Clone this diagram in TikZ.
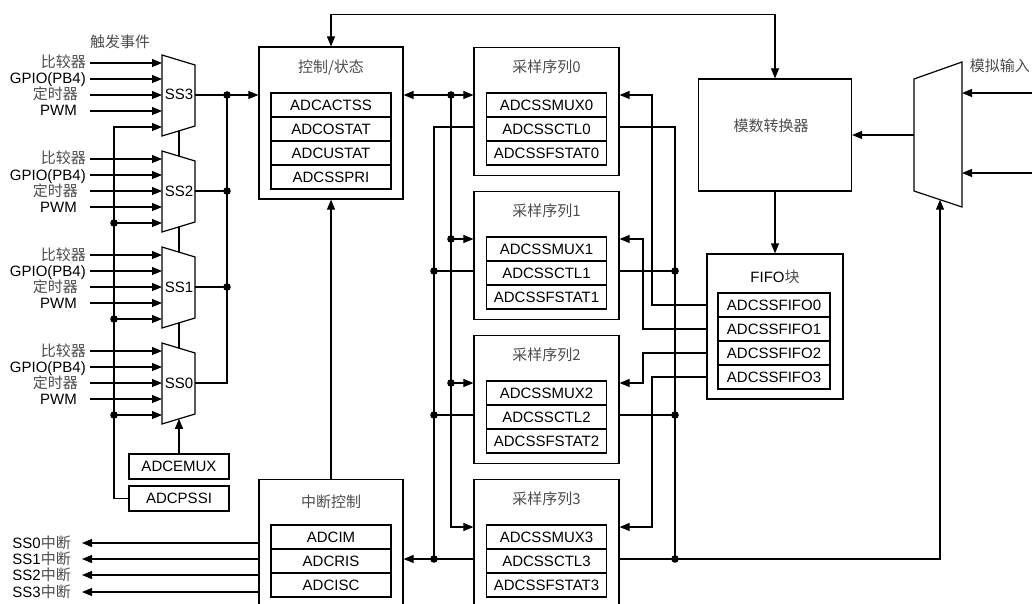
\documentclass[tikz,border=0pt]{standalone}
\usepackage{fontspec}
\setmainfont{Liberation Sans}
\newfontfamily\cjk{Noto Sans CJK SC}
\usetikzlibrary{arrows.meta, positioning, calc}
\newcommand\zh{\cjk\color{black!70}}
\newcommand\adcfont{\fontsize{15pt}{17pt}\selectfont}
\tikzset{
  wire/.style={line width=1.1pt},
  arr/.style={wire, -{Triangle[length=10pt,width=8pt]}},
  darr/.style={wire, {Triangle[length=10pt,width=8pt]}-{Triangle[length=10pt,width=8pt]}},
  blk/.style={draw, line width=1.2pt, inner sep=0pt},
  reg/.style={draw, line width=1.2pt, inner sep=0pt, minimum width=120pt, minimum height=24pt, font=\adcfont},
  ttl/.style={inner sep=0pt, font=\adcfont\cjk, text=black!70},
  lbl/.style={inner sep=0pt, font=\adcfont, text height=11pt, text depth=1pt},
}

\begin{document}
\begin{tikzpicture}[x=1pt,y=-1pt]
  \useasboundingbox (0,0) rectangle (1032,604);
  \clip (0,0) rectangle (1032,604);
  % control / status
  \node[blk, minimum width=144pt, minimum height=152pt] (ctrl) at (331,123) {};
  \node[ttl] (ctrlT) at (331,68) {控制/状态};
  \foreach \r [count=\i] in {ACTSS,OSTAT,USTAT,SSPRI}
    \node[reg] (cr\i) at (331,{81+24*\i}) {ADC\r};
  % interrupt control
  \node[blk, minimum width=144pt, minimum height=130pt, anchor=north] (intr) at (331,479) {};
  \node[ttl] (intrT) at (331,502) {中断控制};
  \foreach \r [count=\i] in {IM,RIS,ISC}
    \node[reg] (ir\i) at (331,{513+24*\i}) {ADC\r};
  % sample sequencers
  \foreach \n in {0,...,3} {
    \pgfmathsetmacro\T{47+144*\n}
    \node[blk, minimum width=145pt, minimum height=128pt, anchor=north] (seq\n) at (546.5,\T) {};
    \node[ttl] (seqT\n) at (546.5,\T+20) {采样序列\n};
    \node[reg] (mux\n) at (546.5,\T+58) {ADCSSMUX\n};
    \node[reg] (ctl\n) at (546.5,\T+82) {ADCSSCTL\n};
    \node[reg] (fst\n) at (546.5,\T+106) {ADCSSFSTAT\n};
    \coordinate (inA\n) at (451,\T+48);
    \coordinate (ctlL\n) at (434,\T+80);
    \coordinate (ctlR\n) at (675,\T+80);
  }
  % converter and FIFO
  \node[blk, minimum width=153pt, minimum height=112pt] (adc) at (775,135) {};
  \node[ttl] (adcT) at (771,126) {模数转换器};
  \node[blk, minimum width=136pt, minimum height=145pt] (fifo) at (775,326.5) {};
  \node[inner sep=0pt, font=\adcfont] (fifoT) at (775,277) {FIFO{\zh 块}};
  \foreach \n in {0,...,3}
    \node[reg, minimum width=112pt] (ff\n) at (774,{305+24*\n}) {ADCSSFIFO\n};
  % analog input mux
  \coordinate (amA) at (914,79);
  \coordinate (amB) at (962,62);
  \coordinate (amC) at (962,207);
  \coordinate (amD) at (914,191);
  \coordinate (amO) at (914,135);
  \coordinate (amS) at (940,199.7);
  \draw[line width=1.2pt] (amA) -- (amB) -- (amC) -- (amD) -- cycle;
  \node[ttl, anchor=east] (ainT) at (1030,66) {模拟输入};
  \foreach \yy [count=\i] in {93,173} {
    \coordinate (ain\i) at (1032,\yy);
    \draw[arr] (ain\i) -- (ain\i -| amB);
  }
  \draw[arr] (amO) -- (adc.east |- amO);
  % trigger muxes
  \node[ttl] (trigT) at (120,42) {触发事件};
  \foreach \s [count=\k from 0] in {3,2,1,0} {
    \pgfmathsetmacro\Y{55+96*\k}
    \draw[line width=1.2pt] (162,\Y) -- (195,\Y+10) -- (195,\Y+71) -- (162,\Y+81) -- cycle;
    \node[lbl] (ss\s) at (179,\Y+40) {SS\s};
    \foreach \t/\rx [count=\j from 0] in {{\zh 比较器}/86,GPIO(PB4)/86,{\zh 定时器}/78,PWM/77} {
      \node[lbl, anchor=east] (tr\s\j) at (\rx,\Y+8+16*\j) {\t};
      \draw[arr] (90,\Y+8+16*\j) -- (162,\Y+8+16*\j);
    }
    \coordinate (o\s) at (195,\Y+40);
    \coordinate (q\s) at (227,\Y+40);
    \coordinate (e\s) at (162,\Y+72);
    \coordinate (b\s) at (114,\Y+72);
    \coordinate (mt\s) at (179,\Y+5.2);
    \coordinate (mb\s) at (179,\Y+75.8);
  }
  \draw[arr] (o3) -- (ctrl.west |- o3);
  \foreach \s in {2,1} \draw[wire] (o\s) -- (q\s);
  \draw[wire] (o0) -| (q3);
  \foreach \s in {3,2,1} \fill (q\s) circle (3.8pt);
  \draw[wire] (mb3) -- (mt2) (mb2) -- (mt1) (mb1) -- (mt0);
  \node[reg, minimum width=100pt, minimum height=25pt] (emux) at (179,466.5) {ADCEMUX};
  \node[reg, minimum width=100pt, minimum height=25pt] (pssi) at (179,498.5) {ADCPSSI};
  \draw[arr] (emux.north) -- (mb0);
  \draw[arr] (pssi.west) -| (b3) -- (e3);
  \foreach \s in {2,1,0} {
    \draw[arr] (b\s) -- (e\s);
    \fill (b\s) circle (3.8pt);
  }
  % buses
  \draw[darr] (ctrl.north) -- ++(0,-32) -| (adc.north);
  \draw[arr] (intr.north) -- (ctrl.south);
  \draw[arr] (adc.south) -- (fifo.north);
  \draw[darr] (ctrl.east |- inA0) -- (seq0.west |- inA0);
  \draw[arr] (inA0) |- (seq3.west |- inA3);
  \foreach \n in {1,2} \draw[arr] (inA\n) -- (seq\n.west |- inA\n);
  \foreach \n in {0,1,2} \fill (inA\n) circle (3.8pt);
  \draw[wire] (seq0.west |- ctlL0) -| (ctlL3);
  \foreach \n in {1,2,3} {
    \draw[wire] (ctlL\n) -- (seq\n.west |- ctlL\n);
    \fill (ctlL\n) circle (3.8pt);
  }
  \draw[arr] (ctlL3) -- (intr.east |- ctlL3);
  \draw[wire] (seq0.east |- ctlR0) -| (ctlR3);
  \foreach \n in {1,2} \draw[wire] (seq\n.east |- ctlR\n) -- (ctlR\n);
  \draw[arr] (seq3.east |- ctlR3) -| (amS);
  \foreach \n in {1,2,3} \fill (ctlR\n) circle (3.8pt);
  \foreach \n/\xx in {0/652,1/643,2/643,3/652}
    \draw[arr] (fifo.west |- ff\n) -- (\xx,0 |- ff\n) |- (seq\n.east |- inA\n);
  % interrupt outputs
  \foreach \n/\yy in {0/543,1/559,2/575,3/592} {
    \node[lbl, anchor=east] (irq\n) at (71,\yy) {SS\n{\zh 中断}};
    \draw[arr] (intr.west |- irq\n) -- ([xshift=11pt]irq\n.east);
  }
\end{tikzpicture}
\end{document}
